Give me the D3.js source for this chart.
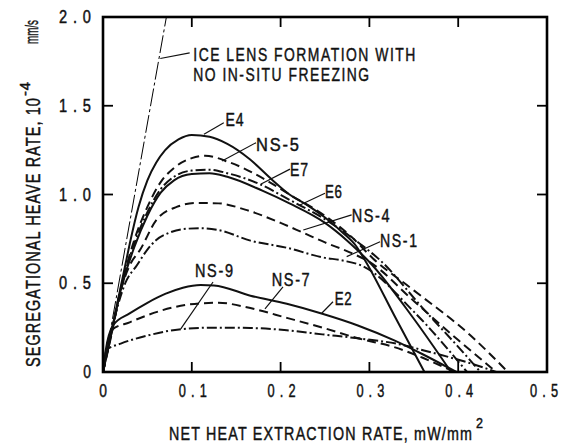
<!DOCTYPE html>
<html><head><meta charset="utf-8">
<script src="https://cdn.jsdelivr.net/npm/d3@7"></script>
<style>body{margin:0;background:#fff}svg{display:block}</style>
</head><body>
<svg id="c" width="563" height="448"></svg>
<script>
// ---------- data ----------
const xTicks=[0,0.1,0.2,0.3,0.4,0.5];
const xTickLabels=["0","0.1","0.2","0.3","0.4","0.5"];
const yTicks=[0,0.5,1.0,1.5,2.0];
const yTickLabels=["0","0.5","1.0","1.5","2.0"];

const iceLens=[[0,0],[0.0714,2.0]];
const E4=[[0,0],[0.01,0.24],[0.02,0.48],[0.025,0.6],[0.03,0.72],[0.04,0.93],[0.05,1.08],[0.06,1.18],[0.07,1.25],[0.085,1.31],[0.1,1.335],[0.12,1.325],[0.14,1.285],[0.165,1.2],[0.19,1.085],[0.21,1.0],[0.23,0.94],[0.25,0.87],[0.27,0.785],[0.285,0.71],[0.295,0.63],[0.33,0.3],[0.362,0]];
const NS5=[[0,0],[0.01,0.24],[0.02,0.47],[0.025,0.57],[0.035,0.74],[0.05,0.93],[0.065,1.07],[0.08,1.15],[0.1,1.205],[0.115,1.218],[0.143,1.18],[0.184,1.08],[0.21,1.0],[0.25,0.88],[0.28,0.76],[0.304,0.64],[0.35,0.46],[0.413,0.21],[0.456,0]];
const E7=[[0,0],[0.01,0.23],[0.02,0.46],[0.025,0.56],[0.035,0.72],[0.05,0.9],[0.065,1.03],[0.08,1.1],[0.1,1.135],[0.12,1.14],[0.14,1.12],[0.178,1.055],[0.21,0.97],[0.25,0.86],[0.29,0.72],[0.312,0.63],[0.36,0.36],[0.41,0.086],[0.425,0]];
const E6=[[0,0],[0.01,0.23],[0.02,0.46],[0.025,0.55],[0.035,0.7],[0.05,0.88],[0.065,1.01],[0.08,1.08],[0.1,1.115],[0.12,1.12],[0.14,1.1],[0.18,1.02],[0.21,0.95],[0.25,0.84],[0.275,0.74],[0.29,0.67],[0.3,0.62],[0.35,0.3],[0.392,0]];
const NS4=[[0,0],[0.01,0.22],[0.019,0.44],[0.03,0.6],[0.042,0.69],[0.06,0.856],[0.083,0.93],[0.105,0.952],[0.13,0.95],[0.16,0.915],[0.2,0.84],[0.223,0.79],[0.25,0.73],[0.28,0.67],[0.3,0.62],[0.35,0.4],[0.4,0.18],[0.443,0]];
const NS1=[[0,0],[0.0154,0.35],[0.025,0.5],[0.038,0.6],[0.05,0.69],[0.06,0.744],[0.075,0.785],[0.09,0.805],[0.11,0.81],[0.13,0.8],[0.166,0.74],[0.207,0.7],[0.247,0.646],[0.271,0.627],[0.291,0.6],[0.35,0.34],[0.41,0]];
const E2=[[0,0],[0.003,0.12],[0.0116,0.265],[0.03,0.33],[0.05,0.39],[0.07,0.44],[0.09,0.475],[0.11,0.49],[0.125,0.488],[0.166,0.43],[0.207,0.384],[0.247,0.328],[0.287,0.262],[0.328,0.178],[0.36,0.1],[0.398,0]];
const NS7=[[0,0],[0.003,0.1],[0.0098,0.237],[0.03,0.28],[0.05,0.32],[0.08,0.365],[0.11,0.387],[0.13,0.39],[0.166,0.36],[0.207,0.305],[0.247,0.25],[0.287,0.19],[0.328,0.14],[0.36,0.08],[0.396,0]];
const NS9=[[0,0],[0.004,0.124],[0.02,0.16],[0.05,0.205],[0.0856,0.24],[0.126,0.25],[0.166,0.248],[0.207,0.235],[0.247,0.212],[0.287,0.19],[0.33,0.16],[0.37,0.11],[0.413,0.05],[0.443,0]];

const series=[
  {name:"E4",pts:E4,dash:null},
  {name:"NS-5",pts:NS5,dash:"9,5"},
  {name:"E7",pts:E7,dash:"10,3,2,3"},
  {name:"E6",pts:E6,dash:null},
  {name:"NS-4",pts:NS4,dash:"9,5"},
  {name:"NS-1",pts:NS1,dash:"10,3,2,3"},
  {name:"E2",pts:E2,dash:null},
  {name:"NS-7",pts:NS7,dash:"9,5"},
  {name:"NS-9",pts:NS9,dash:"10,3,2,3"}
];
// label text position (data units) and leader line [from curve, to text]
const labels=[
  {t:"E4",  at:[0.138,1.386], lead:[[0.1137,1.339],[0.136,1.404]], w:18},
  {t:"NS-5",at:[0.1723,1.245],lead:[[0.134,1.189],[0.1723,1.292]], w:43},
  {t:"E7",  at:[0.2106,1.105],lead:[[0.178,1.059],[0.2106,1.143]], w:18},
  {t:"E6",  at:[0.25,0.979], lead:[[0.2218,0.941],[0.25,1.007]], w:17},
  {t:"NS-4",at:[0.28,0.847], lead:[[0.2256,0.8],[0.28,0.885]], w:38},
  {t:"NS-1",at:[0.312,0.706],lead:[[0.2744,0.65],[0.312,0.734]], w:37},
  {t:"NS-9",at:[0.1036,0.535],lead:[[0.1239,0.507],[0.0876,0.243]], w:38},
  {t:"NS-7",at:[0.19,0.487], lead:[[0.2027,0.479],[0.1824,0.356]], w:38},
  {t:"E2",  at:[0.261,0.377],lead:[[0.259,0.396],[0.2463,0.331]], w:17}
];
const iceText=["ICE LENS FORMATION WITH","NO IN-SITU FREEZING"];
const iceAt=[[0.1017,1.751],[0.1017,1.638]];
const iceLead=[[0.0645,1.766],[0.0976,1.798]];

// ---------- drawing ----------
const FONT='"Liberation Sans","Arimo",Arial,sans-serif';
const svg=d3.select("#c");
const L=103,R=547,T=17,B=372;
const x=d3.scaleLinear().domain([0,0.5]).range([L,R]);
const y=d3.scaleLinear().domain([0,2.0]).range([B,T]);

// text squeezed horizontally to a target width (condensed lettering)
function ftext(str,o){
  const g=svg.append("g").attr("transform",`translate(${o.x},${o.y}) rotate(${o.rot||0})`);
  const ls=o.ls||0;
  const t=g.append("text").attr("font-family",FONT).attr("font-size",o.size)
    .attr("letter-spacing",ls).attr("fill","#111")
    .attr("stroke","#111").attr("stroke-width",0.45).text(str);
  const n=t.node().getComputedTextLength()-ls;
  const s=o.w/n;
  const a=o.anchor||"start";
  const dx=a==="middle"?-o.w/2:a==="end"?-o.w:0;
  t.attr("transform",`translate(${dx},0) scale(${s},1)`);
  return t;
}

const line=d3.line().x(d=>x(d[0])).y(d=>y(d[1])).curve(d3.curveMonotoneX);

// ice lens line
svg.append("path").datum(iceLens).attr("d",d3.line().x(d=>x(d[0])).y(d=>y(d[1])))
  .attr("fill","none").attr("stroke","#000").attr("stroke-width",1).attr("stroke-dasharray","18,3,3,3");

const g=svg.append("g");
series.forEach(s=>{
  g.append("path").datum(s.pts).attr("d",line).attr("fill","none")
   .attr("stroke","#111").attr("stroke-width",2)
   .attr("stroke-dasharray",s.dash);
});

// frame
svg.append("rect").attr("x",L).attr("y",T).attr("width",R-L).attr("height",B-T)
  .attr("fill","none").attr("stroke","#000").attr("stroke-width",2.6);

// inward ticks on all four sides
const TL=10;
xTicks.slice(1,-1).forEach(v=>{
  svg.append("line").attr("x1",x(v)).attr("x2",x(v)).attr("y1",B).attr("y2",B-TL).attr("stroke","#000").attr("stroke-width",1.8);
  svg.append("line").attr("x1",x(v)).attr("x2",x(v)).attr("y1",T).attr("y2",T+TL).attr("stroke","#000").attr("stroke-width",1.8);
});
yTicks.slice(1,-1).forEach(v=>{
  svg.append("line").attr("x1",L).attr("x2",L+TL).attr("y1",y(v)).attr("y2",y(v)).attr("stroke","#000").attr("stroke-width",1.8);
  svg.append("line").attr("x1",R).attr("x2",R-TL).attr("y1",y(v)).attr("y2",y(v)).attr("stroke","#000").attr("stroke-width",1.8);
});

// tick labels
xTicks.forEach((v,i)=>{
  const s=xTickLabels[i];
  const off=i===0?0:(i===xTicks.length-1?-3:1);
  ftext(s,{x:x(v)+off,y:397,size:17.5,w:s.length>1?28:7.7,ls:s.length>1?7:0,anchor:"middle"});
});
yTicks.forEach((v,i)=>{
  const s=yTickLabels[i];
  ftext(s,{x:91,y:y(v)+6,size:17.5,w:s.length>1?32:7.7,ls:s.length>1?7:0,anchor:"end"});
});

// axis titles
ftext("NET HEAT EXTRACTION RATE, mW/mm",{x:169,y:440,size:18,w:303,ls:1.5});
ftext("2",{x:476,y:428,size:14,w:7});

ftext("SEGREGATIONAL HEAVE RATE, 10",{x:40,y:367,size:20,w:269,rot:-90,ls:1.5});
ftext("-4",{x:30,y:96,size:15,w:14,rot:-90,ls:1});
ftext("mm/s",{x:38,y:44,size:18,w:24,rot:-90});

// curve labels and leaders
labels.forEach(l=>{
  svg.append("line").attr("x1",x(l.lead[0][0])).attr("y1",y(l.lead[0][1]))
    .attr("x2",x(l.lead[1][0])).attr("y2",y(l.lead[1][1])).attr("stroke","#111").attr("stroke-width",1.2);
  ftext(l.t,{x:x(l.at[0]),y:y(l.at[1]),size:17.5,w:l.w,ls:l.t.length>2?2:1});
});
svg.append("line").attr("x1",x(iceLead[0][0])).attr("y1",y(iceLead[0][1]))
  .attr("x2",x(iceLead[1][0])).attr("y2",y(iceLead[1][1])).attr("stroke","#111").attr("stroke-width",1.2);
iceText.forEach((t,i)=>{
  ftext(t,{x:x(iceAt[i][0]),y:y(iceAt[i][1]),size:18.5,w:i===0?222:176,ls:2});
});
</script>
</body></html>
